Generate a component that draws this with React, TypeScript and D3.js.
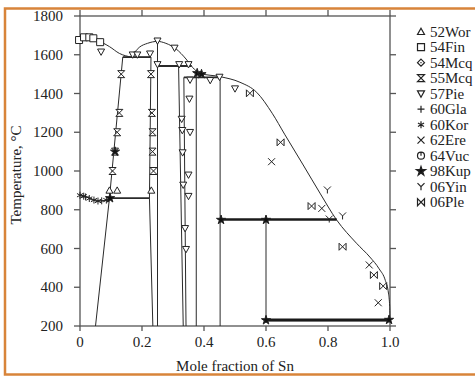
import * as d3 from 'd3'

type Pt = [number, number]

// liquidus, two arcs
const liquidusA: Pt[] = [[0, 1690], [0.052, 1676], [0.095, 1642], [0.127, 1607], [0.165, 1588]]
const liquidusB: Pt[] = [
  [0.165, 1588], [0.191, 1638], [0.218, 1659], [0.25, 1669], [0.277, 1659], [0.31, 1630],
  [0.342, 1578], [0.363, 1535], [0.387, 1504], [0.452, 1487], [0.516, 1458], [0.57, 1406],
  [0.62, 1298], [0.66, 1190], [0.72, 1031], [0.774, 886], [0.828, 747], [0.892, 627],
  [0.935, 556], [0.965, 495], [0.985, 435], [0.995, 370], [0.999, 300], [1.0, 232],
]
const eutectoidCurve: Pt[] = [[0, 876], [0.02, 867], [0.04, 853], [0.06, 845], [0.08, 848], [0.097, 860]]

// straight phase boundaries
const thinSegments: Pt[][] = [
  [[0.05, 200], [0.095, 860], [0.138, 1588]],
  [[0.229, 1588], [0.224, 860], [0.235, 200]],
  [[0.25, 1669], [0.25, 200]],
  [[0.318, 1542], [0.333, 200]],
  [[0.335, 1483], [0.342, 200]],
  [[0.375, 1510], [0.375, 200]],
  [[0.452, 1483], [0.452, 200]],
  [[0.6, 750], [0.6, 232]],
  [[0.6, 225], [1.0, 225]],
]
const midSegments: Pt[][] = [
  [[0.138, 1588], [0.229, 1588]],
  [[0.095, 860], [0.224, 860]],
  [[0.25, 1542], [0.36, 1542]],
  [[0.335, 1483], [0.452, 1483]],
]
const thickSegments: Pt[][] = [
  [[0.452, 750], [0.828, 750]],
  [[0.6, 232], [1.0, 232]],
]

// experimental points
const wor52: Pt[] = [[0.095, 900], [0.12, 900], [0.23, 900]]
const fin54: Pt[] = [[-0.003, 1676], [0.013, 1690], [0.03, 1690], [0.043, 1685], [0.065, 1665]]
const mcq54: Pt[] = []
const mcq55: Pt[] = [
  [0.133, 1500], [0.127, 1300], [0.12, 1200], [0.113, 1100], [0.105, 1000],
  [0.229, 1500], [0.232, 1300], [0.234, 1200], [0.234, 1100], [0.237, 1000],
]
const pie57: Pt[] = [
  [0.068, 1615], [0.17, 1600], [0.185, 1600], [0.226, 1605], [0.25, 1672], [0.305, 1635],
  [0.25, 1550], [0.32, 1550], [0.35, 1550], [0.328, 1268], [0.33, 1210], [0.331, 1095],
  [0.333, 928], [0.339, 704], [0.342, 596], [0.353, 1372], [0.355, 1200], [0.35, 980],
  [0.35, 870], [0.355, 1470], [0.42, 1468], [0.45, 1485], [0.5, 1425],
]
const gla60: Pt[] = [[0.018, 866], [0.07, 846]]
const kor60: Pt[] = [[0, 875], [0.012, 870], [0.03, 858], [0.045, 850], [0.058, 845], [0.085, 850]]
const ere62: Pt[] = [[0.618, 1048], [0.78, 807], [0.933, 515], [0.962, 320]]
const vuc64: Pt[] = []
const kup98: Pt[] = [[0.097, 860], [0.113, 1100], [0.378, 1505], [0.392, 1500], [0.455, 748], [0.6, 748], [0.6, 230], [0.997, 232]]
const yin06: Pt[] = [[0.798, 902], [0.804, 752], [0.847, 768]]
const ple06: Pt[] = [[0.548, 1401], [0.647, 1148], [0.747, 819], [0.847, 609], [0.948, 463], [0.978, 406]]

const xTicks = [0, 0.2, 0.4, 0.6, 0.8, 1.0]
const xTickLabels = ['0', '0.2', '0.4', '0.6', '0.8', '1.0']
const yTicks = [200, 400, 600, 800, 1000, 1200, 1400, 1600, 1800]

const r = 3.5
const MARK: Record<string, { d: string; fill: string }> = {
  triUp: { d: `M0,${-r}L${r},${r * 0.8}L${-r},${r * 0.8}Z`, fill: '#fff' },
  square: { d: `M${-r},${-r}H${r}V${r}H${-r}Z`, fill: '#fff' },
  diamond: { d: `M0,${-r}L${r},0L0,${r}L${-r},0ZM-0.6,0H0.6`, fill: '#fff' },
  hourglass: { d: `M${-r},${-r}H${r}L${-r},${r}H${r}Z`, fill: '#fff' },
  triDown: { d: `M0,${r}L${r},${-r * 0.8}L${-r},${-r * 0.8}Z`, fill: '#fff' },
  plus: { d: `M${-r},0H${r}M0,${-r}V${r}`, fill: 'none' },
  aster: { d: `M0,${-r}V${r}M${-r * 0.87},${-r / 2}L${r * 0.87},${r / 2}M${-r * 0.87},${r / 2}L${r * 0.87},${-r / 2}`, fill: 'none' },
  cross: { d: `M${-r},${-r}L${r},${r}M${-r},${r}L${r},${-r}`, fill: 'none' },
  circ: { d: `M${r},0A${r},${r} 0 1 1 ${-r},0A${r},${r} 0 1 1 ${r},0M0,${-r}V0`, fill: '#fff' },
  star: { d: d3.symbol(d3.symbolStar, 26)() as string, fill: '#111' },
  yShape: { d: `M${-r},${-r}L0,0L${r},${-r}M0,0V${r}`, fill: 'none' },
  bowtie: { d: `M${-r},${-r}L${r},${r}V${-r}L${-r},${r}Z`, fill: '#fff' },
}

const series: { label: string; mark: string; pts: Pt[] }[] = [
  { label: '52Wor', mark: 'triUp', pts: wor52 },
  { label: '54Fin', mark: 'square', pts: fin54 },
  { label: '54Mcq', mark: 'diamond', pts: mcq54 },
  { label: '55Mcq', mark: 'hourglass', pts: mcq55 },
  { label: '57Pie', mark: 'triDown', pts: pie57 },
  { label: '60Gla', mark: 'plus', pts: gla60 },
  { label: '60Kor', mark: 'aster', pts: kor60 },
  { label: '62Ere', mark: 'cross', pts: ere62 },
  { label: '64Vuc', mark: 'circ', pts: vuc64 },
  { label: '98Kup', mark: 'star', pts: kup98 },
  { label: '06Yin', mark: 'yShape', pts: yin06 },
  { label: '06Ple', mark: 'bowtie', pts: ple06 },
]

const W = 475
const H = 376
const pad = { l: 80, r: 390, t: 16, b: 326 }
const font = '"Liberation Serif", "Times New Roman", serif'

export default function App() {
  const x = d3.scaleLinear().domain([0, 1]).range([pad.l, pad.r])
  const y = d3.scaleLinear().domain([200, 1800]).range([pad.b, pad.t])
  const straight = d3.line<Pt>().x(d => x(d[0])).y(d => y(d[1]))
  const smooth = d3.line<Pt>().x(d => x(d[0])).y(d => y(d[1])).curve(d3.curveMonotoneX)
  const axisCol = '#555'
  const lineCol = '#2a2a2a'
  const txtCol = '#222'

  return (
    <svg width={W} height={H} style={{ position: 'absolute', left: 0, top: 0, background: '#fff' }}>
      <rect x={5} y={8.5} width={W + 10} height={366} fill="none" stroke="#d8843a" strokeWidth={2.5} />

      {/* frame and ticks */}
      <rect x={pad.l} y={pad.t} width={pad.r - pad.l} height={pad.b - pad.t} fill="none" stroke={axisCol} strokeWidth={1.3} />
      {yTicks.map(t => (
        <g key={'y' + t}>
          <line x1={pad.l - 6} x2={pad.l} y1={y(t)} y2={y(t)} stroke={axisCol} strokeWidth={1.3} />
          <line x1={pad.r} x2={pad.r + 6} y1={y(t)} y2={y(t)} stroke={axisCol} strokeWidth={1.3} />
          <text x={63} y={y(t)} dy="0.34em" textAnchor="end" fontSize={15} fontFamily={font} fill={txtCol}>{t}</text>
        </g>
      ))}
      {xTicks.map((t, i) => (
        <g key={'x' + t}>
          <line x1={x(t)} x2={x(t)} y1={pad.t - 6} y2={pad.t} stroke={axisCol} strokeWidth={1.3} />
          <line x1={x(t)} x2={x(t)} y1={pad.b} y2={pad.b + 5} stroke={axisCol} strokeWidth={1.3} />
          <text x={x(t)} y={347} textAnchor="middle" fontSize={15} fontFamily={font} fill={txtCol}>{xTickLabels[i]}</text>
        </g>
      ))}
      <text x={235} y={371} textAnchor="middle" fontSize={15} fontFamily={font} fill={txtCol}>Mole fraction of Sn</text>
      <text transform="translate(21,175) rotate(-90)" textAnchor="middle" fontSize={15} fontFamily={font} fill={txtCol}>Temperature, °C</text>

      {/* phase boundaries */}
      <path d={smooth(liquidusA) as string} fill="none" stroke={lineCol} strokeWidth={1} />
      <path d={smooth(liquidusB) as string} fill="none" stroke={lineCol} strokeWidth={1} />
      <path d={smooth(eutectoidCurve) as string} fill="none" stroke={lineCol} strokeWidth={1} />
      {thinSegments.map((s, i) => <path key={'t' + i} d={straight(s) as string} fill="none" stroke={lineCol} strokeWidth={1} />)}
      {midSegments.map((s, i) => <path key={'m' + i} d={straight(s) as string} fill="none" stroke={lineCol} strokeWidth={1.8} />)}
      {thickSegments.map((s, i) => <path key={'k' + i} d={straight(s) as string} fill="none" stroke="#1a1a1a" strokeWidth={2.6} />)}

      {/* experimental points */}
      {series.map(s => s.pts.map((p, i) => (
        <path key={s.label + i} d={MARK[s.mark].d} transform={`translate(${x(p[0])},${y(p[1])})`}
          fill={MARK[s.mark].fill} stroke="#222" strokeWidth={1} />
      )))}

      {/* legend */}
      {series.map((s, i) => (
        <g key={'lg' + s.label} transform={`translate(421,${31.7 + i * 15.5})`}>
          <path d={MARK[s.mark].d} fill={MARK[s.mark].fill} stroke="#222" strokeWidth={1.2} />
          <text x={9} dy="0.34em" fontSize={15} fontFamily={font} fill={txtCol}>{s.label}</text>
        </g>
      ))}
    </svg>
  )
}
